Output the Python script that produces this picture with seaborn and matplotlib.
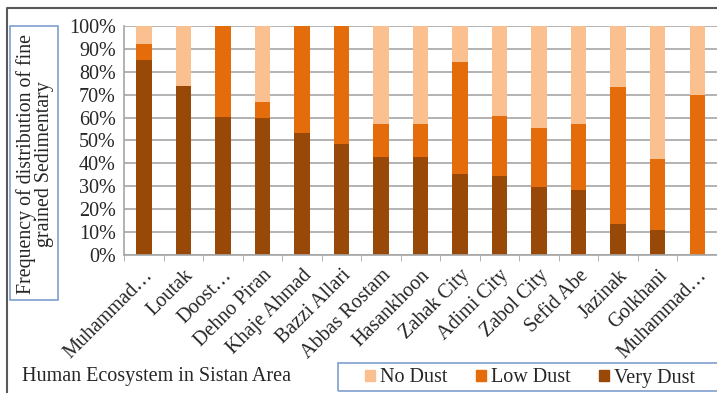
import matplotlib
matplotlib.use("Agg")
import matplotlib.pyplot as plt
import matplotlib.patches as mpatches
import matplotlib.lines as mlines
import seaborn as sns
import pandas as pd
import numpy as np

places = ['Muhammad…', 'Loutak', 'Doost…', 'Dehno Piran', 'Khaje Ahmad',
          'Bazzi Allari', 'Abbas Rostam', 'Hasankhoon', 'Zahak City', 'Adimi City',
          'Zabol City', 'Sefid Abe', 'Jazinak', 'Golkhani', 'Muhammad…']
very_dust = [85.2, 73.8, 60.1, 60.0, 53.4, 48.5, 42.9, 42.9, 35.5, 34.4, 29.7, 28.5, 13.4, 10.9, 0.0]
low_dust = [7.1, 0.0, 39.9, 6.7, 46.6, 51.5, 14.3, 14.3, 48.6, 26.4, 25.8, 28.7, 60.0, 30.9, 70.0]
no_dust = [7.7, 26.2, 0.0, 33.3, 0.0, 0.0, 42.8, 42.8, 15.9, 39.2, 44.5, 42.8, 26.6, 58.2, 30.0]

c_no = '#FAC090'
c_low = '#E46C0A'
c_very = '#984807'

# unique x keys so the two "Muhammad…" bars stay apart
df = pd.DataFrame({'key': [f'{i}' for i in range(len(places))],
                   'very': very_dust, 'low': low_dust, 'no': no_dust})
df['low_top'] = df['very'] + df['low']
df['no_top'] = df['low_top'] + df['no']

sns.set_style('white')
plt.rcParams['font.family'] = ['Liberation Serif', 'DejaVu Serif']
fs = 14.5

fig = plt.figure(figsize=(7.17, 3.93), dpi=100)
ax = fig.add_axes([0.173, 0.351, 0.827, 0.583])

for col, c in [('no_top', c_no), ('low_top', c_low), ('very', c_very)]:
    sns.barplot(x='key', y=col, data=df, color=c, width=0.39, saturation=1,
                linewidth=0, ax=ax)

ax.set_xlim(-0.5, len(places) - 0.5)
ax.set_ylim(0, 100)
ax.set_yticks(np.arange(0, 101, 10))
ax.set_yticklabels([f'{v}%' for v in range(0, 101, 10)], fontsize=fs)
ax.yaxis.grid(True, color='#A6A6A6', linewidth=1.2)
ax.set_axisbelow(True)
ax.tick_params(axis='y', length=4, color='#A6A6A6', pad=2)

ax.set_xticks(range(len(places)))
ax.set_xticklabels(places, rotation=45, ha='right', rotation_mode='anchor', fontsize=fs)
ax.tick_params(axis='x', which='major', length=0, pad=8)
ax.set_xticks(np.arange(-0.5, len(places), 1), minor=True)
ax.tick_params(axis='x', which='minor', length=4, color='#A6A6A6', bottom=True)

ax.set_xlabel('')
ax.set_ylabel('')
for s in ['top', 'right']:
    ax.spines[s].set_visible(False)
for s in ['left', 'bottom']:
    ax.spines[s].set_color('#A6A6A6')
    ax.spines[s].set_linewidth(1.2)

# outer chart border (top and left only are visible)
fig.lines.append(mlines.Line2D([7 / 717, 7 / 717, 1.0], [0, 1 - 8 / 393, 1 - 8 / 393],
                               transform=fig.transFigure, color='#595959', linewidth=1.5))

# y label in its own box
fig.patches.append(mpatches.Rectangle((10 / 717, 1 - 300 / 393), 48 / 717, 274 / 393,
                                      transform=fig.transFigure, fill=False,
                                      edgecolor='#7F9FCF', linewidth=1.2))
fig.text(35 / 717, 1 - 164 / 393, 'Frequency of distribution of fine\ngrained Sedimentary',
         rotation=90, ha='center', va='center', fontsize=14.3, linespacing=0.95)

fig.text(22 / 717, 1 - 376 / 393, 'Human Ecosystem in Sistan Area',
         ha='left', va='center', fontsize=fs)

# legend box runs off the right edge
fig.patches.append(mpatches.Rectangle((338 / 717, 1 - 391 / 393), 400 / 717, 28 / 393,
                                      transform=fig.transFigure, fill=False,
                                      edgecolor='#7F9FCF', linewidth=1.2))
handles = [mpatches.Patch(color=c_no, label='No Dust'),
           mpatches.Patch(color=c_low, label='Low Dust'),
           mpatches.Patch(color=c_very, label='Very Dust')]
leg = fig.legend(handles=handles, ncol=3, loc='center',
                 bbox_to_anchor=(530 / 717, 1 - 378 / 393),
                 fontsize=fs, frameon=False,
                 handlelength=0.5, handleheight=0.5, handletextpad=0.25,
                 columnspacing=1.4, borderpad=0.25, borderaxespad=0)

fig.savefig('out.png', dpi=100)
